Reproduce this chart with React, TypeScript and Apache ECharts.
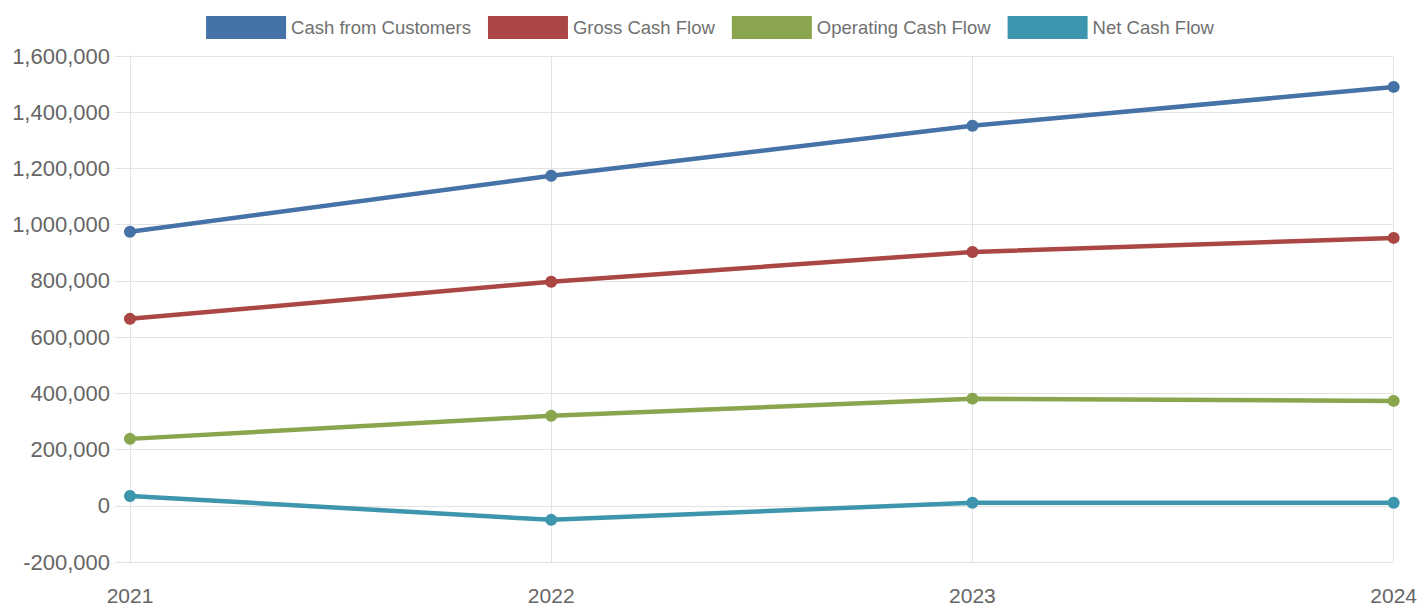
import React, { useEffect, useRef } from "react";
import * as echarts from "echarts";

const years = ["2021", "2022", "2023", "2024"];
const cashFromCustomers = [975000, 1174000, 1352000, 1490000];
const grossCashFlow = [665000, 797000, 903000, 953000];
const operatingCashFlow = [238000, 320000, 381000, 373000];
const netCashFlow = [35000, -50000, 11000, 11000];

const seriesNames = ["Cash from Customers", "Gross Cash Flow", "Operating Cash Flow", "Net Cash Flow"];
const seriesColors = ["#4572A7", "#AA4643", "#89A54E", "#3D96AE"];
const seriesData = [cashFromCustomers, grossCashFlow, operatingCashFlow, netCashFlow];

const gridColor = "#e3e3e3";
const labelColor = "#666666";
const fontFamily = "'Liberation Sans', Arial, Helvetica, sans-serif";

export default function App() {
  const ref = useRef<HTMLDivElement>(null);
  useEffect(() => {
    if (!ref.current) return;
    const chart = echarts.init(ref.current, undefined, { renderer: "svg" });
    chart.setOption({
      animation: false,
      backgroundColor: "#ffffff",
      textStyle: { fontFamily },
      legend: {
        top: 11,
        left: "center",
        icon: "rect",
        itemWidth: 80,
        itemHeight: 23,
        itemGap: 17,
        textStyle: { color: "#707070", fontSize: 18.5, fontFamily },
        data: seriesNames,
      },
      grid: { left: 130, right: 26, top: 56, bottom: 44, containLabel: false },
      xAxis: {
        type: "category",
        data: years,
        boundaryGap: false,
        axisLine: { show: true, lineStyle: { color: gridColor, width: 1 } },
        axisTick: { show: true, length: 15, lineStyle: { color: gridColor } },
        splitLine: { show: true, lineStyle: { color: gridColor, width: 1 } },
        axisLabel: { color: labelColor, fontSize: 21, margin: 23, fontFamily },
      },
      yAxis: {
        type: "value",
        min: -200000,
        max: 1600000,
        interval: 200000,
        axisLine: { show: true, lineStyle: { color: gridColor, width: 1 } },
        axisTick: { show: true, length: 15, lineStyle: { color: gridColor } },
        splitLine: { show: true, lineStyle: { color: gridColor, width: 1 } },
        axisLabel: {
          color: labelColor,
          fontSize: 22,
          margin: 20,
          fontFamily,
          formatter: (v: number) => v.toLocaleString("en-US"),
        },
      },
      series: seriesNames.map((name, i) => ({
        name,
        type: "line",
        data: seriesData[i],
        symbol: "circle",
        symbolSize: 12,
        showSymbol: true,
        lineStyle: { width: 4.5, color: seriesColors[i] },
        itemStyle: { color: seriesColors[i] },
        emphasis: { disabled: true },
      })),
    });
    return () => chart.dispose();
  }, []);
  return (
    <div
      ref={ref}
      style={{ position: "fixed", left: 0, top: 0, width: 1420, height: 606 }}
    />
  );
}
